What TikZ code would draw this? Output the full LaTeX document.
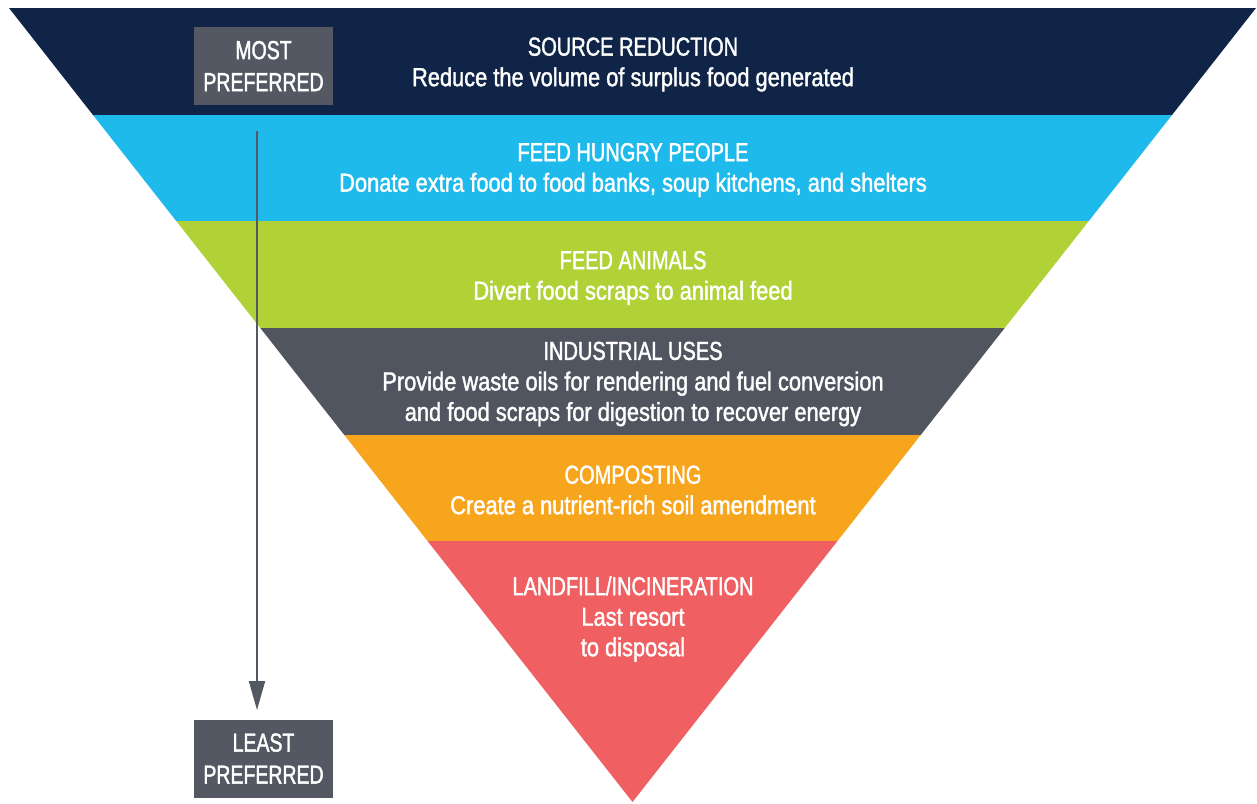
\documentclass[tikz,border=0pt]{standalone}
\usepackage{fontspec}
\setmainfont{Liberation Sans}[FakeStretch=0.9]
\newfontfamily\titlefont{Liberation Sans}[FakeStretch=0.77,FakeBold=1.5]
\newfontfamily\subfont{Liberation Sans}[FakeStretch=0.84,FakeBold=1.5]
\newfontfamily\boxfont{Liberation Sans}[FakeStretch=0.75,FakeBold=1.5]
\usetikzlibrary{arrows.meta}
\definecolor{cnavy}{HTML}{0F2447}
\definecolor{cblue}{HTML}{1FBAEC}
\definecolor{cgreen}{HTML}{B0D236}
\definecolor{cgray}{HTML}{51555F}
\definecolor{corange}{HTML}{F8A51E}
\definecolor{cred}{HTML}{F06062}
\definecolor{cbox}{HTML}{535862}
\newcommand{\ttl}[1]{{\titlefont #1}}
\newcommand{\sbt}[1]{{\subfont #1}}
\tikzset{
  bandtext/.style={text=white, align=center, inner sep=0pt, font=\fontsize{26}{30.5}\selectfont},
  prefbox/.style={fill=cbox, text=white, align=center, minimum width=139pt, minimum height=78pt, inner sep=0pt, font=\fontsize{26}{32}\selectfont\boxfont},
  arr/.style={draw=cbox, line width=2pt, -{Triangle[width=16pt,length=29pt]}}
}
\begin{document}
\begin{tikzpicture}[x=1pt,y=-1pt]
\useasboundingbox (0,0) rectangle (1257,803);
% bands
\fill[cnavy] (9,8) -- (1256,8) -- (1172,115) -- (93,115) -- cycle;
\fill[cblue] (93,115) -- (1172,115) -- (1088.8,221) -- (176.2,221) -- cycle;
\fill[cgreen] (176.2,221) -- (1088.8,221) -- (1004.7,328) -- (260.3,328) -- cycle;
\fill[cgray] (260.3,328) -- (1004.7,328) -- (920.7,435) -- (344.3,435) -- cycle;
\fill[corange] (344.3,435) -- (920.7,435) -- (837.5,541) -- (427.5,541) -- cycle;
\fill[cred] (427.5,541) -- (837.5,541) -- (632.5,802) -- cycle;
% texts
\node[bandtext] (t1) at (633,64.5) {\ttl{SOURCE REDUCTION}\\\sbt{Reduce the volume of surplus food generated}};
\node[bandtext] (t2) at (633,170) {\ttl{FEED HUNGRY PEOPLE}\\\sbt{Donate extra food to food banks, soup kitchens, and shelters}};
\node[bandtext] (t3) at (633,278) {\ttl{FEED ANIMALS}\\\sbt{Divert food scraps to animal feed}};
\node[bandtext] (t4) at (633,384) {\ttl{INDUSTRIAL USES}\\\sbt{Provide waste oils for rendering and fuel conversion}\\\sbt{and food scraps for digestion to recover energy}};
\node[bandtext] (t5) at (633,490) {\ttl{COMPOSTING}\\\sbt{Create a nutrient-rich soil amendment}};
\node[bandtext] (t6) at (633,619) {\ttl{LANDFILL/INCINERATION}\\\sbt{Last resort}\\\sbt{to disposal}};
% preference boxes
\node[prefbox] (most) at (263.5,66) {MOST\\PREFERRED};
\node[prefbox] (least) at (263.5,758.5) {LEAST\\PREFERRED};
\coordinate (arrstart) at (257,131);
\coordinate (arrend) at (257,710);
\draw[arr] (arrstart) -- (arrend);
\end{tikzpicture}
\end{document}
